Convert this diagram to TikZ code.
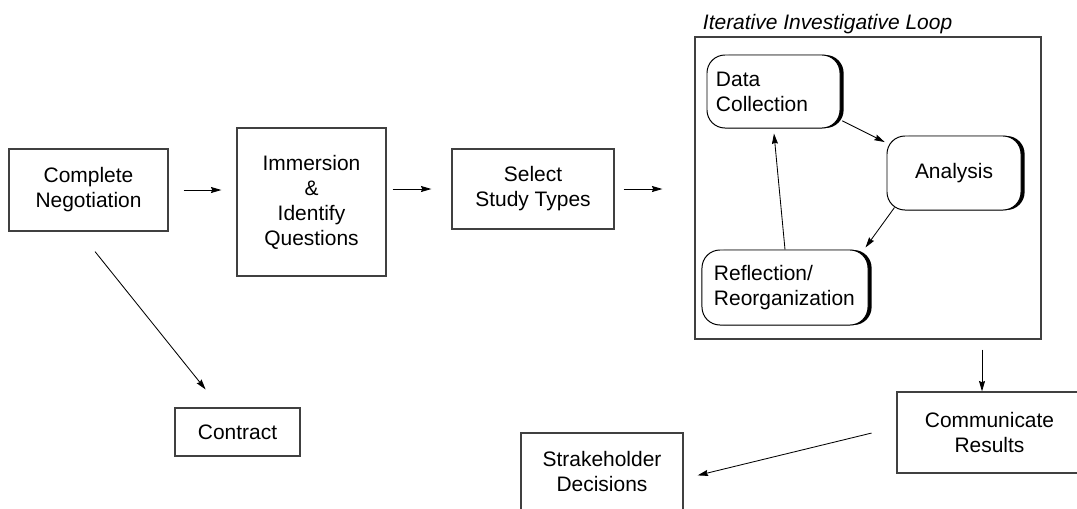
\documentclass[tikz,border=0pt]{standalone}
\usepackage{fontspec}
\setmainfont{Liberation Sans}
\usetikzlibrary{arrows.meta,calc,shadows}
\definecolor{edgegray}{gray}{0.25}

\begin{document}
\begin{tikzpicture}[x=0.025cm,y=-0.025cm,line width=0.85pt,
  font=\fontsize{14.9}{17.8}\selectfont,
  box/.style={draw=edgegray,align=center,inner sep=0pt},
  rbox/.style={draw=black,line width=0.7pt,fill=white,rounded corners=0.45cm,inner ysep=0pt,
    general shadow={fill=black,shadow xshift=0.09cm,shadow yshift=0cm}},
  arr/.style={-{Stealth[length=0.26cm,width=0.15cm,inset=0.03cm]},line width=0.6pt}]
  \clip (0,0) rectangle (1077,508);
  % main chain
  \node[box,minimum width=3.975cm,minimum height=2.05cm] (cn) at (88.5,190) {Complete\\Negotiation};
  \node[box,minimum width=3.725cm,minimum height=3.7cm] (imm) at (311.5,202) {Immersion\\\&\\Identify\\Questions};
  \node[box,minimum width=4.05cm,minimum height=2cm] (sel) at (533,189) {Select\\Study Types};
  \node[box,minimum width=3.125cm,minimum height=1.2cm] (con) at (237.5,432) {Contract};
  \draw[arr,shorten <=0.375cm,shorten >=0.375cm] (cn.east) -- (cn.east -| imm.west);
  \draw[arr,shorten <=0.15cm,shorten >=0.5cm] (imm.east |- sel) -- (sel.west);
  \draw[arr,shorten <=0.64cm,shorten >=0.575cm] ($(cn.south)+(-9.5,0)$) -- ($(con.north)+(-17.5,0)$);
  % iterative loop
  \node[box,minimum width=8.65cm,minimum height=7.55cm] (loop) at (868,188) {};
  \node[anchor=base west,inner xsep=0pt,font=\fontsize{14.9}{17.8}\selectfont\itshape] (title) at ($(loop.north west)+(8,-7)$) {Iterative Investigative Loop};
  \draw[arr,shorten <=0.225cm,shorten >=0.8cm] (sel.east) -- (sel.east -| loop.west);
  \node[rbox,align=left,text width=2.875cm,inner xsep=0.225cm,minimum height=1.825cm] (dc) at (773.5,91.5) {Data\\Collection};
  \node[rbox,minimum width=3.35cm,minimum height=1.85cm] (an) at (954,173) {Analysis};
  \node[rbox,align=left,text width=3.55cm,inner xsep=0.3cm,minimum height=1.875cm] (ref) at (785,287.5) {Reflection/\\Reorganization};
  \draw[arr,shorten <=0.05cm,shorten >=0.05cm] (dc.-23) -- (an.156);
  \draw[arr] ($(an.south west)+(8,-3)$) -- ($(ref.north east)+(-3,-2)$);
  \draw[arr,shorten >=0.125cm] (ref.north) -- (dc.south);
  % results
  \node[box,minimum width=4.625cm,minimum height=2.025cm] (com) at (989.5,432.5) {Communicate\\Results};
  \node[box,minimum width=4.05cm,minimum height=1.925cm] (stk) at (602,471.5) {Strakeholder\\Decisions};
  \coordinate (cin) at ($(com.north)+(-7.5,0)$);
  \draw[arr,shorten <=0.25cm] (cin |- loop.south) -- (cin);
  \draw[arr,shorten <=0.64cm,shorten >=0.36cm] ($(com.west)+(0,-5.5)$) -- ($(stk.east)+(0,7.3)$);
\end{tikzpicture}
\end{document}
